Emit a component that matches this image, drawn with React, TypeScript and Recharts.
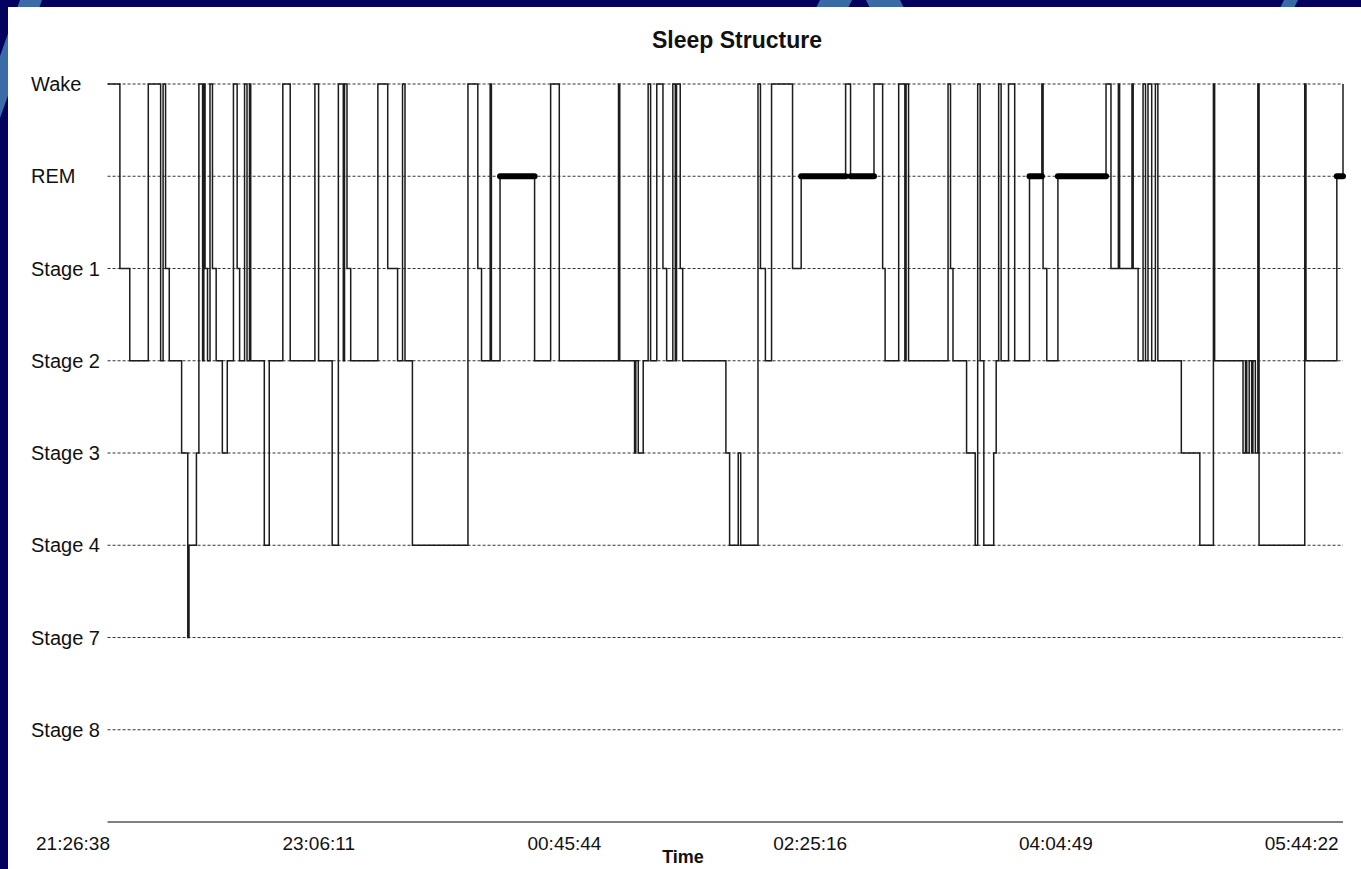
//
// Sleep structure hypnogram
//
import { Label, Line, LineChart, ReferenceLine, XAxis, YAxis } from 'recharts';

// stage rows, top to bottom
const stageLabels = ['Wake', 'REM', 'Stage 1', 'Stage 2', 'Stage 3', 'Stage 4', 'Stage 7', 'Stage 8'];

// clock labels on the time axis
const timeLabels = ['21:26:38', '23:06:11', '00:45:44', '02:25:16', '04:04:49', '05:44:22'];

// stage changes: minutes after 21:26:38 and the stage entered at that time
const changeMinutes = [
  14, 19, 23, 30.5, 35.5, 36.5, 37.5, 39, 44, 46.5, 47, 50, 51, 52.5, 53, 53.5, 54.5, 55.5, 56.5, 58,
  60.5, 62.5, 65, 66.5, 67.5, 69.5, 70.5, 71.5, 72, 77.5, 79.5, 85, 88, 98, 99.5, 105, 107.5, 109.5, 110, 111,
  112.5, 123.5, 127.5, 131.5, 133.5, 134.5, 137.5, 160, 164, 165.5, 169, 169.5, 173, 187, 193.5, 197, 221, 221.5, 227.5, 228,
  229, 231, 233, 234, 236.5, 239, 240.5, 243, 244, 244.5, 246, 247, 264.5, 266, 269.5, 270.5, 277.5, 278.5, 280.5, 283,
  291.5, 295, 313, 315, 324.5, 328, 329, 334.5, 337, 337.5, 338.5, 354.5, 355.5, 356.5, 362, 365.5, 366.5, 367.5, 369, 373,
  374, 375, 376, 379, 381.5, 387.5, 392.5, 393, 394.5, 399, 418.5, 420.5, 423.5, 424, 429, 429.5, 431.5, 433.5, 434.5, 435.5,
  437, 438.5, 439.5, 449, 456.5, 462, 462.5, 474, 475, 475.5, 476.5, 477.5, 478, 479, 480, 480.5, 499, 499.5, 512, 514.5,
];
const changeStages = [
  'Wake', 'Stage 1', 'Stage 2', 'Wake', 'Stage 2', 'Wake', 'Stage 1', 'Stage 2', 'Stage 3', 'Stage 7',
  'Stage 4', 'Stage 3', 'Wake', 'Stage 2', 'Wake', 'Stage 1', 'Stage 2', 'Wake', 'Stage 1', 'Stage 2',
  'Stage 3', 'Stage 2', 'Wake', 'Stage 1', 'Stage 2', 'Wake', 'Stage 2', 'Wake', 'Stage 2', 'Stage 4',
  'Stage 2', 'Wake', 'Stage 2', 'Wake', 'Stage 2', 'Stage 4', 'Wake', 'Stage 2', 'Wake', 'Stage 1',
  'Stage 2', 'Wake', 'Stage 1', 'Stage 2', 'Wake', 'Stage 2', 'Stage 4', 'Wake', 'Stage 1', 'Stage 2',
  'Wake', 'Stage 2', 'REM', 'Stage 2', 'Wake', 'Stage 2', 'Wake', 'Stage 2', 'Stage 3', 'Stage 2',
  'Stage 3', 'Stage 2', 'Wake', 'Stage 2', 'Wake', 'Stage 1', 'Stage 2', 'Wake', 'Stage 2', 'Wake',
  'Stage 1', 'Stage 2', 'Stage 3', 'Stage 4', 'Stage 3', 'Stage 4', 'Wake', 'Stage 1', 'Stage 2', 'Wake',
  'Stage 1', 'REM', 'Wake', 'REM', 'Wake', 'Stage 1', 'Stage 2', 'Wake', 'Stage 2', 'Wake',
  'Stage 2', 'Wake', 'Stage 1', 'Stage 2', 'Stage 3', 'Stage 4', 'Wake', 'Stage 2', 'Stage 4', 'Stage 3',
  'Stage 2', 'Wake', 'Stage 2', 'Wake', 'Stage 2', 'REM', 'Wake', 'Stage 1', 'Stage 2', 'REM',
  'Wake', 'Stage 1', 'Wake', 'Stage 1', 'Wake', 'Stage 1', 'Stage 2', 'Wake', 'Stage 2', 'Wake',
  'Stage 2', 'Wake', 'Stage 2', 'Stage 3', 'Stage 4', 'Wake', 'Stage 2', 'Stage 3', 'Stage 2', 'Stage 3',
  'Stage 2', 'Stage 3', 'Stage 2', 'Stage 3', 'Wake', 'Stage 4', 'Wake', 'Stage 2', 'REM', 'Wake',
];

const FONT = '"Liberation Sans", Arial, sans-serif';

// minutes after the first clock label (wraps past midnight)
const toMinutes = (clock: string) => {
  const [h, m, s] = clock.split(':').map(Number);
  return h * 60 + m + s / 60;
};
const startClock = toMinutes(timeLabels[0]);
const tickMinutes = timeLabels.map((c) => {
  const d = toMinutes(c) - startClock;
  return d < 0 ? d + 24 * 60 : d;
});

const hypnoData = changeMinutes.map((t, i) => ({ t, stage: stageLabels.indexOf(changeStages[i]) }));

// REM episodes drawn as heavy bars
const remBlocks = hypnoData
  .map((p, i) => (p.stage === 1 && i < hypnoData.length - 1 ? [
    { t: p.t, rem: 1 },
    { t: hypnoData[i + 1].t, rem: 1 },
  ] : null))
  .filter((b) => b !== null);

const firstMin = changeMinutes[0];
const lastMin = changeMinutes[changeMinutes.length - 1];

const StageTick = ({ x, y, payload }: any) => (
  <text x={x - 34} y={y} dy="0.35em" textAnchor="start" fontSize={20} fontFamily={FONT} fill="#111">
    {stageLabels[payload.value]}
  </text>
);

const TimeTick = ({ x, y, payload, index }: any) => (
  <text x={x} y={y + 13} dy="0.35em" textAnchor="middle" fontSize={19} fontFamily={FONT} fill="#111">
    {timeLabels[index] ?? payload.value}
  </text>
);

function App() {
  return (
    <div style={{ position: 'absolute', left: 0, top: 0, width: 1361, height: 869, background: '#03035f', overflow: 'hidden' }}>
      <svg width={1361} height={869} style={{ position: 'absolute', left: 0, top: 0 }}>
        <polygon points="20,0 42,0 0,118 0,56" fill="#3c6ca8" />
        <polygon points="820,0 852,0 848,8 816,8" fill="#3a6aa6" />
        <polygon points="866,0 900,0 904,8 870,8" fill="#3a6aa6" />
        <polygon points="1284,0 1298,0 1294,8 1280,8" fill="#3a6aa6" />
      </svg>
      <div style={{ position: 'absolute', left: 8, top: 7, width: 1353, height: 862, background: '#fff' }}>
        <div
          style={{
            position: 'absolute',
            left: 729,
            top: 20,
            transform: 'translateX(-50%)',
            fontFamily: FONT,
            fontWeight: 'bold',
            fontSize: 23,
            lineHeight: '26px',
            whiteSpace: 'nowrap',
            color: '#111',
          }}
        >
          Sleep Structure
        </div>
        <LineChart
          width={1353}
          height={862}
          data={hypnoData}
          margin={{ top: 77, right: 18, bottom: 0, left: 0 }}
        >
          <XAxis
            dataKey="t"
            type="number"
            domain={[0, lastMin]}
            ticks={tickMinutes}
            interval={0}
            tick={<TimeTick />}
            tickLine={false}
            axisLine={false}
            height={47}
          >
            <Label
              value="Time"
              position="insideBottom"
              offset={6}
              dx={-25}
              style={{ fontFamily: FONT, fontWeight: 'bold', fontSize: 18, fill: '#111' }}
            />
          </XAxis>
          <YAxis
            type="number"
            domain={[0, 8]}
            reversed
            ticks={[0, 1, 2, 3, 4, 5, 6, 7]}
            interval={0}
            tick={<StageTick />}
            tickLine={false}
            axisLine={false}
            width={65}
          />
          {stageLabels.map((s, i) => (
            <ReferenceLine
              key={s}
              segment={[{ x: firstMin, y: i }, { x: lastMin, y: i }]}
              stroke="#333"
              strokeWidth={1}
              strokeDasharray="3 2"
            />
          ))}
          {/* bottom baseline */}
          <ReferenceLine
            segment={[{ x: firstMin, y: 8 }, { x: lastMin, y: 8 }]}
            stroke="#555"
            strokeWidth={1.5}
          />
          <Line
            type="stepAfter"
            dataKey="stage"
            stroke="#1c1c1c"
            strokeWidth={1.5}
            dot={false}
            activeDot={false}
            isAnimationActive={false}
          />
          {remBlocks.map((b, i) => (
            <Line
              key={'rem' + i}
              data={b}
              dataKey="rem"
              type="linear"
              stroke="#000"
              strokeWidth={6}
              strokeLinecap="round"
              dot={false}
              activeDot={false}
              isAnimationActive={false}
            />
          ))}
        </LineChart>
      </div>
    </div>
  );
}

export default App;
